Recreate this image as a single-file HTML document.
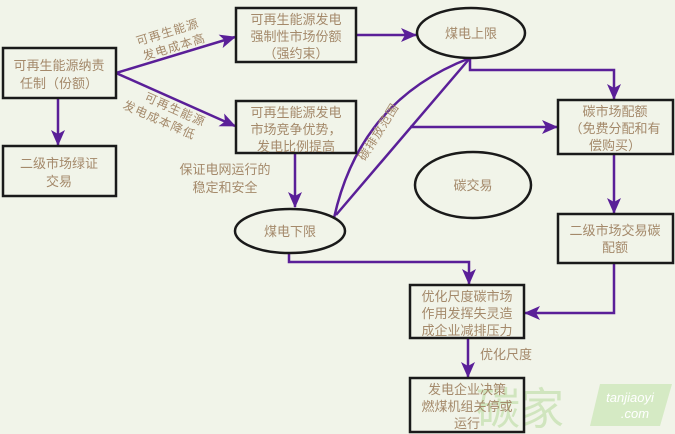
<!DOCTYPE html>
<html><head><meta charset="utf-8"><style>
html,body{margin:0;padding:0;background:#f1f4e9;}
svg{display:block;font-family:"Liberation Sans","Noto Sans CJK SC",sans-serif;}
.t{fill:#a4896a;font-size:13px;text-anchor:middle;}
.l{fill:#a4896a;font-size:12px;text-anchor:middle;letter-spacing:1px;}
.b{fill:none;stroke:#1a1a1a;stroke-width:2.5;}
.a{fill:none;stroke:#5a1f98;stroke-width:2.5;}
</style></head><body>
<svg width="675" height="434" viewBox="0 0 675 434">
<defs><marker id="M" markerWidth="16" markerHeight="14" refX="15" refY="7" orient="auto" markerUnits="userSpaceOnUse"><path d="M0,0 L16,7 L0,14 L4,7 Z" fill="#5a1f98"/></marker></defs>

<!-- watermark -->
<text x="520" y="424" font-size="44" fill="#c3e0ad" opacity="0.7" text-anchor="middle">碳家</text>
<path d="M600,384 L672,384 L660,426 L590,426 Z" fill="#c9e5b4" opacity="0.7"/>
<text x="630" y="402" font-size="13" fill="#fff" text-anchor="middle" font-style="italic">tanjiaoyi</text>
<text x="635" y="418" font-size="13" fill="#fff" text-anchor="middle" font-style="italic">.com</text>

<!-- connectors -->
<line class="a" x1="116" y1="73" x2="235" y2="37" marker-end="url(#M)"/>
<line class="a" x1="116" y1="73" x2="235" y2="126" marker-end="url(#M)"/>
<line class="a" x1="58" y1="98" x2="58" y2="145" marker-end="url(#M)"/>
<line class="a" x1="356" y1="35" x2="416" y2="35" marker-end="url(#M)"/>
<path class="a" d="M470,58 V70 H614 V99" marker-end="url(#M)"/>
<line class="a" x1="295" y1="153" x2="295" y2="207" marker-end="url(#M)"/>
<path class="a" d="M336,215 L470,58"/>
<path class="a" d="M334,218 Q360,100 470,58"/>
<line class="a" x1="410" y1="127" x2="557" y2="127" marker-end="url(#M)"/>
<line class="a" x1="614" y1="154" x2="614" y2="213" marker-end="url(#M)"/>
<path class="a" d="M614,263 V313 H525" marker-end="url(#M)"/>
<path class="a" d="M289,252 V262 H469 V284" marker-end="url(#M)"/>
<line class="a" x1="468" y1="338" x2="468" y2="377" marker-end="url(#M)"/>

<!-- boxes -->
<rect class="b" x="3" y="48" width="113" height="50"/>
<text class="t" x="59" y="70">可再生能源纳责</text><text class="t" x="59" y="88">任制（份额）</text>
<rect class="b" x="3" y="146" width="113" height="50"/>
<text class="t" x="59" y="168">二级市场绿证</text><text class="t" x="59" y="186">交易</text>
<rect class="b" x="236" y="8" width="120" height="54"/>
<text class="t" x="296" y="24">可再生能源发电</text><text class="t" x="296" y="41">强制性市场份额</text><text class="t" x="296" y="58">（强约束）</text>
<rect class="b" x="236" y="101" width="120" height="52"/>
<text class="t" x="296" y="117">可再生能源发电</text><text class="t" x="296" y="134">市场竞争优势，</text><text class="t" x="296" y="151">发电比例提高</text>
<rect class="b" x="558" y="100" width="115" height="54"/>
<text class="t" x="615" y="116">碳市场配额</text><text class="t" x="615" y="133">（免费分配和有</text><text class="t" x="615" y="150">偿购买）</text>
<rect class="b" x="558" y="214" width="115" height="49"/>
<text class="t" x="615" y="235">二级市场交易碳</text><text class="t" x="615" y="252">配额</text>
<rect class="b" x="410" y="285" width="114" height="53"/>
<text class="t" x="467" y="301">优化尺度碳市场</text><text class="t" x="467" y="318">作用发挥失灵造</text><text class="t" x="467" y="335">成企业减排压力</text>
<rect class="b" x="410" y="378" width="114" height="54"/>
<text class="t" x="467" y="394">发电企业决策</text><text class="t" x="467" y="411">燃煤机组关停或</text><text class="t" x="467" y="428">运行</text>

<!-- ellipses -->
<ellipse class="b" cx="471" cy="33" rx="54" ry="25"/>
<text class="t" x="471" y="38">煤电上限</text>
<ellipse class="b" cx="473" cy="185" rx="58" ry="33"/>
<text class="t" x="473" y="190">碳交易</text>
<ellipse class="b" cx="290" cy="231" rx="55" ry="22"/>
<text class="t" x="290" y="236">煤电下限</text>

<!-- labels -->
<g transform="rotate(-17 170 40)"><text class="l" x="170" y="36">可再生能源</text><text class="l" x="172" y="52">发电成本高</text></g>
<g transform="rotate(24 165 115)"><text class="l" x="172" y="110">可再生能源</text><text class="l" x="162" y="126">发电成本降低</text></g>
<text class="t" x="225" y="174">保证电网运行的</text><text class="t" x="225" y="192">稳定和安全</text>
<text class="l" x="382" y="134" transform="rotate(-58 382 134)">碳排放范围</text>
<text class="t" x="506" y="359">优化尺度</text>
</svg>
</body></html>
